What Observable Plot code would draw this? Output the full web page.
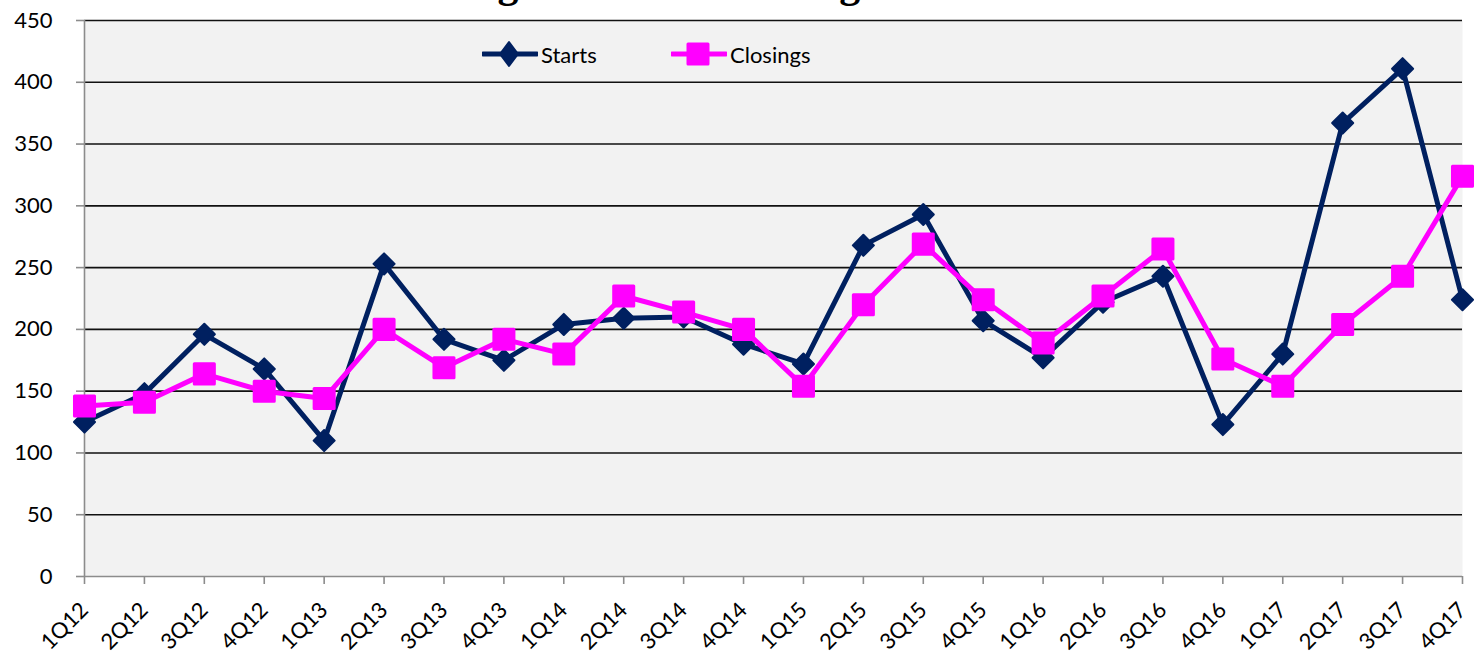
<!DOCTYPE html>
<html>
<head>
<meta charset="utf-8">
<script src="https://cdn.jsdelivr.net/npm/d3@7"></script>
<script src="https://cdn.jsdelivr.net/npm/@observablehq/plot@0.6"></script>
<style>
  html, body { margin: 0; padding: 0; background: #fff; }
  #wrap { position: relative; width: 1474px; height: 654px; overflow: hidden; }
  #title { position: absolute; left: 369px; top: -38px; font: bold 42px "Liberation Serif", "Times New Roman", serif; line-height: 42px; white-space: nowrap; color: #000; }
  #legend { position: absolute; top: 39px; left: 0; font: 22px Lato, sans-serif; color: #000; }
  .item { position: absolute; display: flex; align-items: center; white-space: nowrap; height: 30px; }
</style>
</head>
<body>
<div id="wrap">
  <div id="chart"></div>
  <div id="title">Housing Starts and Closings</div>
  <div id="legend"></div>
</div>
<script>
const quarters = ["1Q12","2Q12","3Q12","4Q12","1Q13","2Q13","3Q13","4Q13","1Q14","2Q14","3Q14","4Q14","1Q15","2Q15","3Q15","4Q15","1Q16","2Q16","3Q16","4Q16","1Q17","2Q17","3Q17","4Q17"];
const starts   = [125,148,196,168,110,253,192,175,204,209,210,188,172,268,293,207,177,222,243,123,180,367,411,224];
const closings = [138,141,164,150,144,200,169,192,180,227,214,200,154,220,269,224,189,227,265,176,154,204,243,324];
const yTicks = [0,50,100,150,200,250,300,350,400,450];
const seriesNames = ["Starts","Closings"];
const seriesColors = ["#002060","#ff00ff"];

const data = quarters.map((q, i) => ({q, starts: starts[i], closings: closings[i]}));

const chart = Plot.plot({
  width: 1474,
  height: 654,
  marginLeft: 84,
  marginRight: 12,
  marginTop: 20,
  marginBottom: 78,
  style: {fontFamily: "Lato, sans-serif", fontSize: "22px", background: "transparent", color: "#000", overflow: "visible"},
  x: {type: "point", domain: quarters, padding: 0, round: false, label: null},
  y: {domain: [0, 450], label: null},
  marks: [
    Plot.frame({fill: "#f2f2f2", stroke: null}),
    Plot.ruleY(yTicks.filter(d => d > 0), {stroke: "#111", strokeWidth: 1.6}),
    Plot.ruleY([0], {stroke: "#8c8c8c", strokeWidth: 1.6}),
    Plot.ruleX([quarters[0]], {stroke: "#8c8c8c", strokeWidth: 1.6}),
    Plot.axisY({ticks: yTicks, tickSize: 8, tickPadding: 24, stroke: "#8c8c8c", fill: "#000", strokeWidth: 1.6, fontSize: 22, label: null}),
    Plot.axisX({tickSize: 8, tickPadding: 22, tickRotate: -45, dx: 0, stroke: "#8c8c8c", fill: "#000", strokeWidth: 1.6, fontSize: 22, label: null}),
    Plot.lineY(data, {x: "q", y: "starts", stroke: seriesColors[0], strokeWidth: 5}),
    Plot.dot(data, {x: "q", y: "starts", symbol: "diamond2", r: 9.5, fill: seriesColors[0], stroke: seriesColors[0], strokeWidth: 2, strokeLinejoin: "round"}),
    Plot.lineY(data, {x: "q", y: "closings", stroke: seriesColors[1], strokeWidth: 5}),
    Plot.dot(data, {x: "q", y: "closings", symbol: "square", r: 11.3, fill: seriesColors[1], stroke: seriesColors[1], strokeWidth: 3, strokeLinejoin: "round"})
  ]
});
document.getElementById("chart").appendChild(chart);

// Legend (inside plot area, top)
const legend = document.getElementById("legend");
const legendLeft = [482, 671];
seriesNames.forEach((name, i) => {
  const item = document.createElement("div");
  item.className = "item";
  item.style.left = legendLeft[i] + "px";
  const marker = i === 0
    ? `<path d="M27,3 L36,15 L27,27 L18,15 Z" fill="${seriesColors[i]}" stroke="${seriesColors[i]}" stroke-width="2" stroke-linejoin="round"/>`
    : `<rect x="17" y="5" width="20" height="20" fill="${seriesColors[i]}" stroke="${seriesColors[i]}" stroke-width="3" stroke-linejoin="round"/>`;
  item.innerHTML = `<svg width="56" height="30" style="display:block"><line x1="1" y1="15" x2="55" y2="15" stroke="${seriesColors[i]}" stroke-width="5" stroke-linecap="round"/>${marker}</svg><span style="margin-left:3px">${name}</span>`;
  legend.appendChild(item);
});
</script>
</body>
</html>
